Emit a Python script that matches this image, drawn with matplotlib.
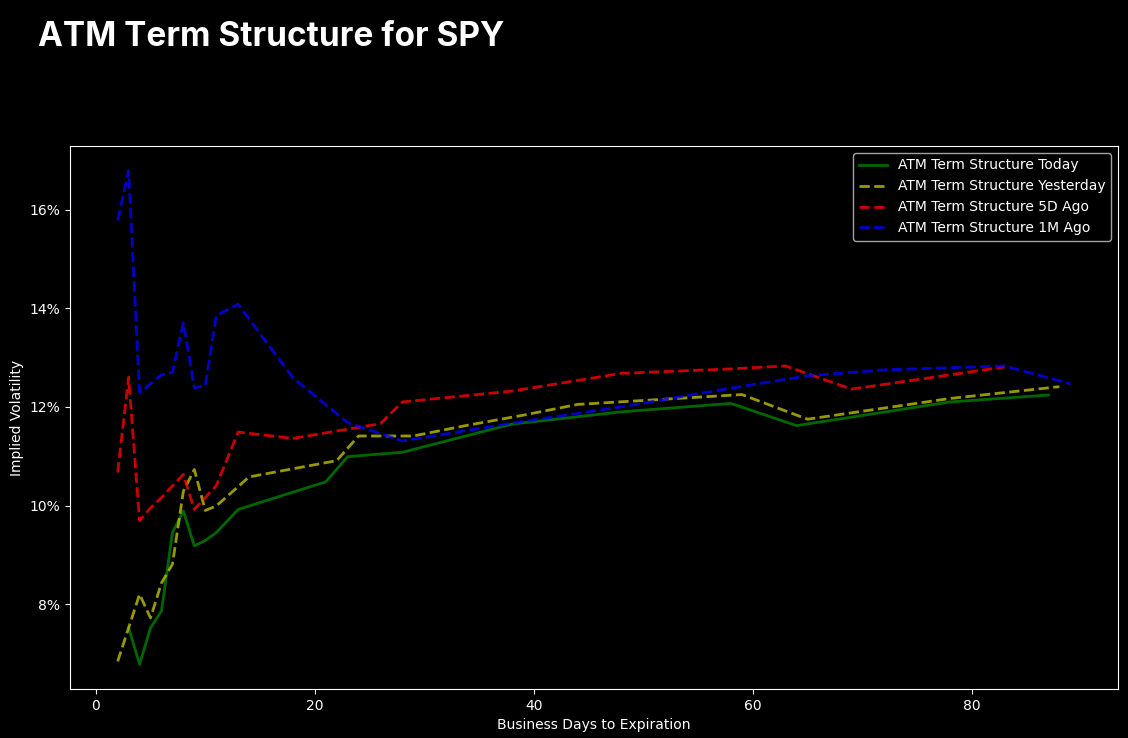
import matplotlib.pyplot as plt
from matplotlib.ticker import FuncFormatter

# business days to expiration / implied vol (%) for each snapshot
days_today = [3, 4, 5, 6, 7, 8, 9, 10, 11, 13, 21, 23, 28, 38, 48, 58, 64, 78, 87]
iv_today = [7.52, 6.78, 7.52, 7.86, 9.45, 9.89, 9.18, 9.29, 9.45, 9.92, 10.48, 10.99,
            11.08, 11.65, 11.90, 12.07, 11.62, 12.10, 12.24]

days_yest = [2, 4, 5, 6, 7, 8, 9, 10, 11, 14, 22, 24, 29, 34, 39, 44, 59, 65, 78, 88]
iv_yest = [6.84, 8.20, 7.72, 8.43, 8.81, 10.29, 10.73, 9.90, 9.99, 10.58, 10.91, 11.41,
           11.41, 11.63, 11.83, 12.05, 12.25, 11.75, 12.17, 12.41]

days_5d = [2, 3, 4, 5, 6, 8, 9, 11, 13, 18, 26, 28, 38, 48, 58, 63, 69, 83]
iv_5d = [10.67, 12.60, 9.69, 9.95, 10.16, 10.63, 9.92, 10.40, 11.49, 11.36, 11.66, 12.10,
         12.32, 12.68, 12.77, 12.83, 12.36, 12.81]

days_1m = [2, 3, 4, 6, 7, 8, 9, 10, 11, 13, 18, 23, 28, 38, 48, 58, 65, 72, 83, 89]
iv_1m = [15.78, 16.79, 12.29, 12.65, 12.70, 13.71, 12.39, 12.43, 13.85, 14.08, 12.59,
         11.68, 11.31, 11.67, 12.00, 12.38, 12.63, 12.75, 12.83, 12.47]

ticker = "SPY"

plt.style.use("dark_background")
fig = plt.figure(figsize=(11.28, 7.38), dpi=100)
ax = fig.add_axes([0.0621, 0.0664, 0.929, 0.7358])

ax.plot(days_today, iv_today, color="g", alpha=0.8, lw=2, label="ATM Term Structure Today")
ax.plot(days_yest, iv_yest, color="y", alpha=0.8, lw=2, ls="--", label="ATM Term Structure Yesterday")
ax.plot(days_5d, iv_5d, color="r", alpha=0.8, lw=2, ls="--", label="ATM Term Structure 5D Ago")
ax.plot(days_1m, iv_1m, color="b", alpha=0.8, lw=2, ls="--", label="ATM Term Structure 1M Ago")

ax.yaxis.set_major_formatter(FuncFormatter(lambda v, _: f"{v:.0f}%"))
ax.set_xlabel("Business Days to Expiration")
ax.set_ylabel("Implied Volatility")
ax.legend(loc="upper right")

fig.text(0.034, 0.972, f"ATM Term Structure for {ticker}", family="Inter",
         fontsize=24, fontweight="bold", va="top", ha="left")

fig.savefig("out.png")
